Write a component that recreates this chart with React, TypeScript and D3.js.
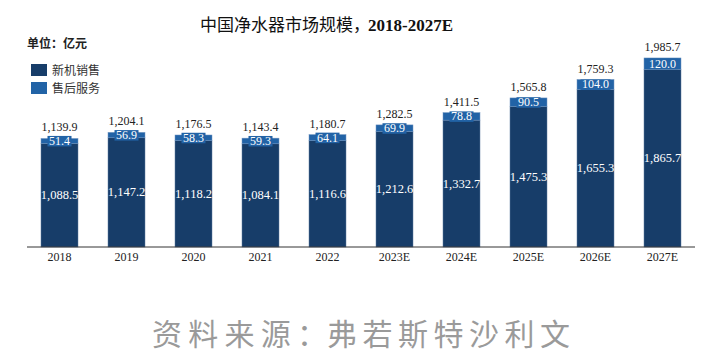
import React from "react";
import * as d3 from "d3";

const years = ["2018", "2019", "2020", "2021", "2022", "2023E", "2024E", "2025E", "2026E", "2027E"];
const newSales = [1088.5, 1147.2, 1118.2, 1084.1, 1116.6, 1212.6, 1332.7, 1475.3, 1655.3, 1865.7];
const afterSales = [51.4, 56.9, 58.3, 59.3, 64.1, 69.9, 78.8, 90.5, 104.0, 120.0];
const totals = [1139.9, 1204.1, 1176.5, 1143.4, 1180.7, 1282.5, 1411.5, 1565.8, 1759.3, 1985.7];
const seriesNames = ["新机销售", "售后服务"];

const DARK = "#173d69";
const LIGHT = "#2263a6";
const SERIF = "'Liberation Serif', 'DejaVu Serif', serif";
const CJK = "'Noto Sans CJK SC', sans-serif";

const fmt = d3.format(",.1f");

function textW(s: string) {
  let w = 0;
  for (const c of s) w += c === "," || c === "." ? 3 : 6;
  return w;
}

export default function App() {
  const W = 720, H = 363;
  const base = 247;
  const x = d3.scaleBand<string>().domain(years).range([26, 696]).paddingInner(0.448).paddingOuter(0.224);
  const y = d3.scaleLinear().domain([0, 2000]).range([base, base - 190.4]);
  const bw = x.bandwidth();

  return (
    <svg width={W} height={H} style={{ position: "absolute", left: 0, top: 0, background: "#fff" }}>
      <text x={200} y={31} fontFamily={CJK} fontSize={17} fill="#111">中国净水器市场规模，</text>
      <text x={368} y={31} fontFamily={SERIF} fontSize={17} fontWeight="bold" fill="#111">2018-2027E</text>
      <text x={27} y={48} fontFamily={CJK} fontSize={12} fontWeight={600} fill="#222">单位：亿元</text>

      {seriesNames.map((n, i) => (
        <g key={n}>
          <rect x={31} y={64 + i * 18} width={16} height={12} fill={i === 0 ? DARK : LIGHT} />
          <text x={52} y={75 + i * 18} fontFamily={CJK} fontSize={12} fill="#333">{n}</text>
        </g>
      ))}

      {years.map((yr, i) => {
        const x0 = x(yr)!;
        const cx = x0 + bw / 2;
        const yTop1 = y(newSales[i]);
        const yTop2 = y(newSales[i] + afterSales[i]);
        const segMid = (yTop1 + yTop2) / 2;
        const lab2 = afterSales[i].toFixed(1);
        const boxW = textW(lab2) + 3;
        return (
          <g key={yr}>
            <rect x={x0} y={yTop1} width={bw} height={base - yTop1} fill={DARK} stroke="#5b7aa0" strokeWidth={0.5} />
            <rect x={x0} y={yTop2} width={bw} height={yTop1 - yTop2} fill={LIGHT} stroke="#6f93c0" strokeWidth={0.5} />
            <rect x={cx - boxW / 2} y={segMid - 5} width={boxW} height={10.5} fill={LIGHT} />
            <text x={cx} y={segMid + 4} textAnchor="middle" fontFamily={SERIF} fontSize={12} fill="#fff">{lab2}</text>
            <text x={cx} y={(yTop1 + base) / 2 + 4} textAnchor="middle" fontFamily={SERIF} fontSize={12.5} fill="#fff">{fmt(newSales[i])}</text>
            <text x={cx} y={yTop2 - 7} textAnchor="middle" fontFamily={SERIF} fontSize={12} fill="#222">{fmt(totals[i])}</text>
            <text x={cx} y={261} textAnchor="middle" fontFamily={SERIF} fontSize={12} fill="#222">{yr}</text>
          </g>
        );
      })}
      <line x1={27} x2={695} y1={base} y2={base} stroke="#333" strokeWidth={1} />

      <text x={152} y={345} fontFamily={CJK} fontSize={30} fill="#9a9a9a" textLength={175} lengthAdjust="spacing">资料来源：</text>
      <text x={327} y={345} fontFamily={CJK} fontSize={30} fill="#9a9a9a" textLength={243} lengthAdjust="spacing">弗若斯特沙利文</text>
    </svg>
  );
}
